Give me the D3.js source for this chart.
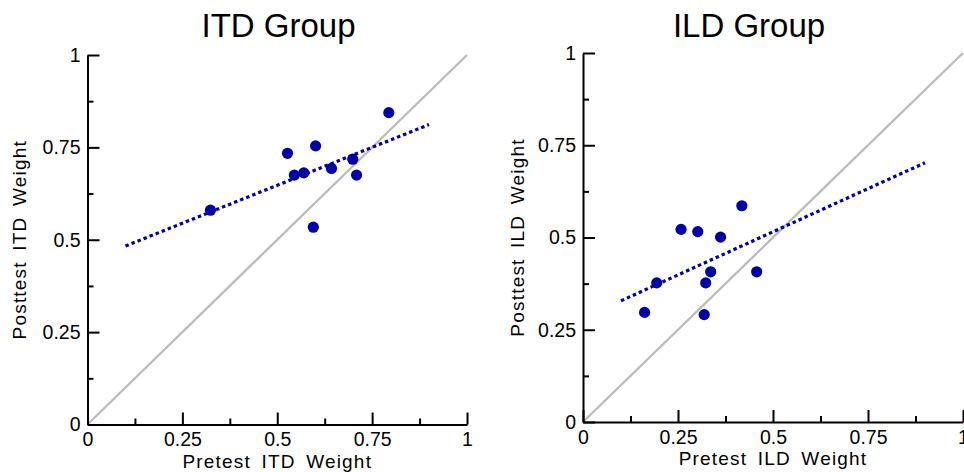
<!DOCTYPE html>
<html>
<head>
<meta charset="utf-8">
<script src="https://cdn.jsdelivr.net/npm/d3@7"></script>
<style>
  body { margin: 0; background: #fff; }
  svg { display: block; font-family: "Liberation Sans", Arial, sans-serif; }
</style>
</head>
<body>
<svg id="chart" width="964" height="472"></svg>
<script>
// values
const itdPre  = [0.324, 0.527, 0.545, 0.570, 0.601, 0.643, 0.699, 0.709, 0.794, 0.595];
const itdPost = [0.580, 0.734, 0.675, 0.681, 0.754, 0.693, 0.718, 0.675, 0.844, 0.534];

const ildPre  = [0.162, 0.194, 0.258, 0.302, 0.362, 0.336, 0.323, 0.319, 0.418, 0.457];
const ildPost = [0.297, 0.377, 0.522, 0.516, 0.501, 0.407, 0.377, 0.291, 0.586, 0.407];

const majorTicks = [0, 0.25, 0.5, 0.75, 1];
const tickLabels = ["0", "0.25", "0.5", "0.75", "1"];
const minorTicks = [0.125, 0.375, 0.625, 0.875];
const fitRange = [0.1, 0.9];

const svg = d3.select("#chart");
const dotColor = "#0000aa";

function fit(xs, ys) {
    const mx = d3.mean(xs), my = d3.mean(ys);
    let sxy = 0, sxx = 0;
    xs.forEach((x, i) => {
        sxy += (x - mx) * (ys[i] - my);
        sxx += (x - mx) * (x - mx);
    });
    const slope = sxy / sxx;
    return x => my + slope * (x - mx);
}

function drawPanel(opts) {
    const x = d3.scaleLinear().domain([0, 1]).range(opts.xRange);
    const y = d3.scaleLinear().domain([0, 1]).range(opts.yRange);
    const g = svg.append("g");

    // identity line
    g.append("line")
        .attr("x1", x(0)).attr("y1", y(0))
        .attr("x2", x(1)).attr("y2", y(1))
        .attr("stroke", "#bbbbbb")
        .attr("stroke-width", 2.3);

    // axes: major ticks point inward, labels outside
    const xAxis = g.append("g")
        .attr("transform", `translate(0,${y(0)})`)
        .call(d3.axisBottom(x).tickValues(majorTicks)
            .tickFormat((d, i) => tickLabels[i])
            .tickSizeInner(-12).tickSizeOuter(0).tickPadding(8));
    g.append("g")
        .attr("transform", `translate(0,${y(0)})`)
        .call(d3.axisBottom(x).tickValues(minorTicks).tickFormat("")
            .tickSizeInner(-6).tickSizeOuter(0))
        .select(".domain").remove();

    g.append("g")
        .attr("transform", `translate(${x(0)},0)`)
        .call(d3.axisLeft(y).tickValues(majorTicks)
            .tickFormat((d, i) => tickLabels[i])
            .tickSizeInner(-12).tickSizeOuter(0).tickPadding(7));
    g.append("g")
        .attr("transform", `translate(${x(0)},0)`)
        .call(d3.axisLeft(y).tickValues(minorTicks).tickFormat("")
            .tickSizeInner(-6).tickSizeOuter(0))
        .select(".domain").remove();

    g.selectAll(".domain, .tick line")
        .attr("stroke", "#000")
        .attr("stroke-width", 2);
    g.selectAll(".tick text")
        .attr("fill", "#000")
        .style("font-size", "19.5px")
        .style("font-family", "'Liberation Sans', Arial, sans-serif");
    xAxis.selectAll(".tick text").attr("dy", "0.71em");

    // regression line
    const f = fit(opts.xs, opts.ys);
    g.append("line")
        .attr("x1", x(fitRange[0])).attr("y1", y(f(fitRange[0])))
        .attr("x2", x(fitRange[1])).attr("y2", y(f(fitRange[1])))
        .attr("stroke", dotColor)
        .attr("stroke-width", 3.2)
        .attr("stroke-dasharray", "3.5 3");

    // points
    g.selectAll("circle")
        .data(opts.xs.map((v, i) => [v, opts.ys[i]]))
        .join("circle")
        .attr("cx", d => x(d[0]))
        .attr("cy", d => y(d[1]))
        .attr("r", 5.6)
        .attr("fill", dotColor);

    // labels
    g.append("text")
        .attr("x", opts.titleX).attr("y", 37)
        .attr("text-anchor", "middle")
        .style("font-size", "33px")
        .text(opts.title);

    g.append("text")
        .attr("x", (opts.xRange[0] + opts.xRange[1]) / 2)
        .attr("y", y(0) + 43)
        .attr("text-anchor", "middle")
        .style("font-size", "19px")
        .style("letter-spacing", "1.2px")
        .style("word-spacing", "4px")
        .text(opts.xLabel);

    g.append("text")
        .attr("transform", `translate(${opts.yLabelX},${(opts.yRange[0] + opts.yRange[1]) / 2}) rotate(-90)`)
        .attr("text-anchor", "middle")
        .style("font-size", "19px")
        .style("letter-spacing", "1.2px")
        .style("word-spacing", "4px")
        .text(opts.yLabel);
}

drawPanel({
    xs: itdPre, ys: itdPost,
    xRange: [87.5, 467], yRange: [424.5, 55],
    title: "ITD Group", titleX: 278.5,
    xLabel: "Pretest ITD Weight", yLabel: "Posttest ITD Weight",
    yLabelX: 26
});

drawPanel({
    xs: ildPre, ys: ildPost,
    xRange: [583, 963], yRange: [422, 53],
    title: "ILD Group", titleX: 749,
    xLabel: "Pretest ILD Weight", yLabel: "Posttest ILD Weight",
    yLabelX: 524
});
</script>
</body>
</html>
